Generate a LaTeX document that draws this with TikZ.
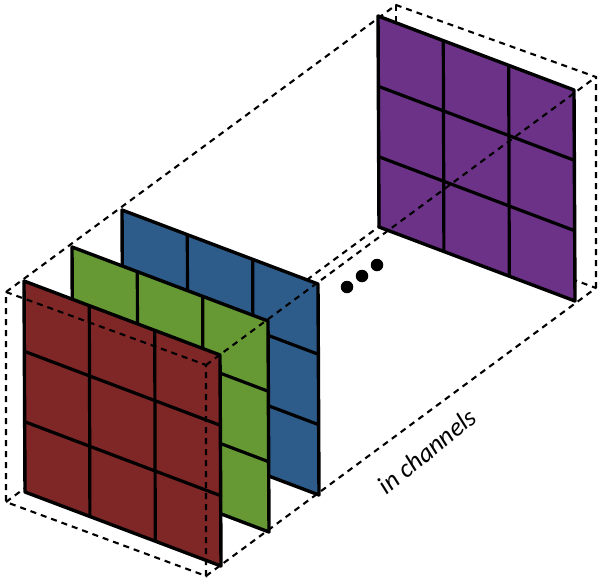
\documentclass[tikz,border=0pt]{standalone}
\usepackage{fontspec}
\setmainfont{Carlito}
\definecolor{cred}{HTML}{7F2626}
\definecolor{cgreen}{HTML}{669933}
\definecolor{cblue}{HTML}{2E5C8A}
\definecolor{cpurple}{HTML}{6B3287}
\tikzset{
  facefill/.style={line width=3.4pt,draw=black,line join=round},
  gridline/.style={line width=3.2pt,draw=black},
  boxline/.style={line width=2.1pt,draw=black,dash pattern=on 6pt off 5pt},
  dotmark/.style={circle,fill=black,inner sep=0pt,minimum size=12.5pt},
  lbl/.style={font=\itshape\fontsize{26}{26}\selectfont,text=black,inner sep=0pt}
}
\newcommand{\gridface}[3]{%
  % #1 colour, #2 x of top-left, #3 y of top-left
  \begin{scope}[shift={(#2,#3)}]
    \fill[#1] (0,0) -- (196,74) -- (197,285) -- (1,211) -- cycle;
    \draw[gridline] (0.33,70.3) -- (196.33,144.3);
    \draw[gridline] (0.67,140.7) -- (196.67,214.7);
    \draw[gridline] (65.3,24.7) -- (65.9,235.7);
    \draw[gridline] (130.7,49.3) -- (131.3,260.3);
    \draw[facefill] (0,0) -- (196,74) -- (197,285) -- (1,211) -- cycle;
  \end{scope}}
\begin{document}
\begin{tikzpicture}[x=1pt,y=-1pt]
\useasboundingbox (0,0) rectangle (600,581);
\coordinate (fa) at (6,292);
\coordinate (fb) at (206,365);
\coordinate (fc) at (206,576);
\coordinate (fd) at (6,502);
\coordinate (ra) at (396,5);
\coordinate (rb) at (596,77);
\coordinate (rc) at (596,288);
\coordinate (rd) at (396,214);
% hidden edges
\draw[boxline] (fd) -- (rd);
\draw[boxline] (ra) -- (rd);
\draw[boxline] (rd) -- (rc);
\gridface{cpurple}{378}{16}
\gridface{cblue}{122}{210}
\gridface{cgreen}{72}{247}
\gridface{cred}{24}{281}
% box edges in front
\draw[boxline] (fa) -- (fb) -- (fc) -- (fd) -- cycle;
\draw[boxline] (fa) -- (ra) -- (rb) -- (rc);
\draw[boxline] (fb) -- (rb);
\draw[boxline] (fc) -- (rc);
% ellipsis dots
\node[dotmark] (d1) at (347,287) {};
\node[dotmark] (d2) at (362,276) {};
\node[dotmark] (d3) at (377,265) {};
\node[lbl,rotate=39] (chan) at (427,451) {in channels};
\end{tikzpicture}
\end{document}
